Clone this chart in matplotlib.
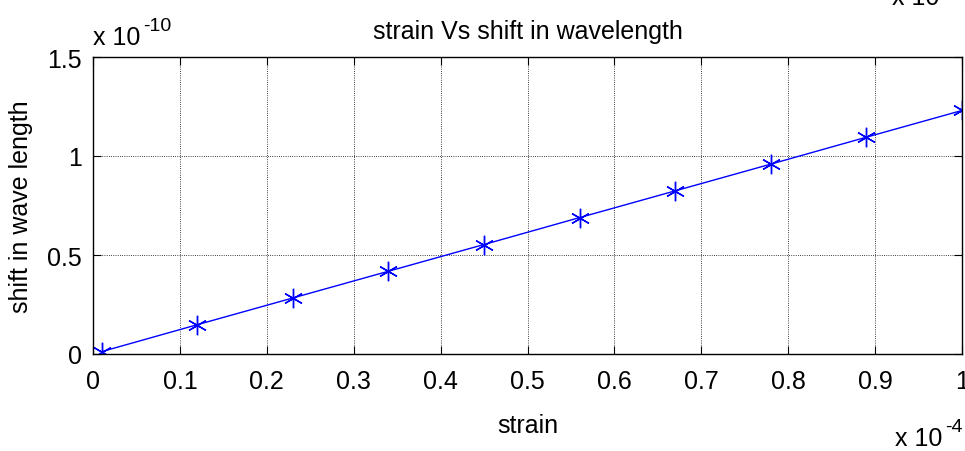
import matplotlib.pyplot as plt
from matplotlib.ticker import FuncFormatter, FixedLocator

plt.rcParams['font.family'] = ['Liberation Sans', 'DejaVu Sans']

# data
strain = [0.01e-4, 0.12e-4, 0.23e-4, 0.34e-4, 0.45e-4, 0.56e-4, 0.67e-4, 0.78e-4, 0.89e-4, 1.0e-4]
shift = [0.012e-10, 0.148e-10, 0.283e-10, 0.418e-10, 0.553e-10, 0.689e-10,
         0.824e-10, 0.959e-10, 1.095e-10, 1.23e-10]
xticks = [0, 0.1e-4, 0.2e-4, 0.3e-4, 0.4e-4, 0.5e-4, 0.6e-4, 0.7e-4, 0.8e-4, 0.9e-4, 1.0e-4]
yticks = [0, 0.5e-10, 1.0e-10, 1.5e-10]

W, H = 965, 452
fig = plt.figure(figsize=(W / 100, H / 100), dpi=100)
ax = fig.add_axes([93 / W, 1 - 355 / H, (962 - 93) / W, (355 - 58) / H])

ax.plot(strain, shift, color='blue', linewidth=1)
ax.plot(strain, shift, linestyle='none', marker=(6, 2, 0), markersize=14,
        markeredgecolor='blue', markeredgewidth=1)

ax.set_xlim(0, 1e-4)
ax.set_ylim(0, 1.5e-10)
ax.xaxis.set_major_locator(FixedLocator(xticks))
ax.yaxis.set_major_locator(FixedLocator(yticks))
ax.xaxis.set_major_formatter(FuncFormatter(lambda v, p: '%g' % round(v * 1e4, 3)))
ax.yaxis.set_major_formatter(FuncFormatter(lambda v, p: '%g' % round(v * 1e10, 3)))
ax.tick_params(direction='in', length=6, labelsize=18, top=True, right=True)
ax.tick_params(axis='x', pad=11)
ax.tick_params(axis='y', pad=8)
ax.grid(True, color='black', linestyle=':', linewidth=0.6)
for s in ax.spines.values():
    s.set_linewidth(1)

ax.set_title('strain Vs shift in wavelength', fontsize=18, pad=14)
ax.set_xlabel('strain', fontsize=18, labelpad=14)
ax.set_ylabel('shift in wave length', fontsize=18, labelpad=10)

# exponent labels, MATLAB style
def exponent(x, y, power):
    fig.text(x / W, 1 - y / H, 'x 10', fontsize=18, ha='left', va='baseline')
    fig.text((x + 50) / W, 1 - (y - 14) / H, power, fontsize=14, ha='left', va='baseline')

exponent(93, 45, '-10')
exponent(895, 446, '-4')
exponent(892, 5, '-4')

fig.savefig('out.png', dpi=100)
